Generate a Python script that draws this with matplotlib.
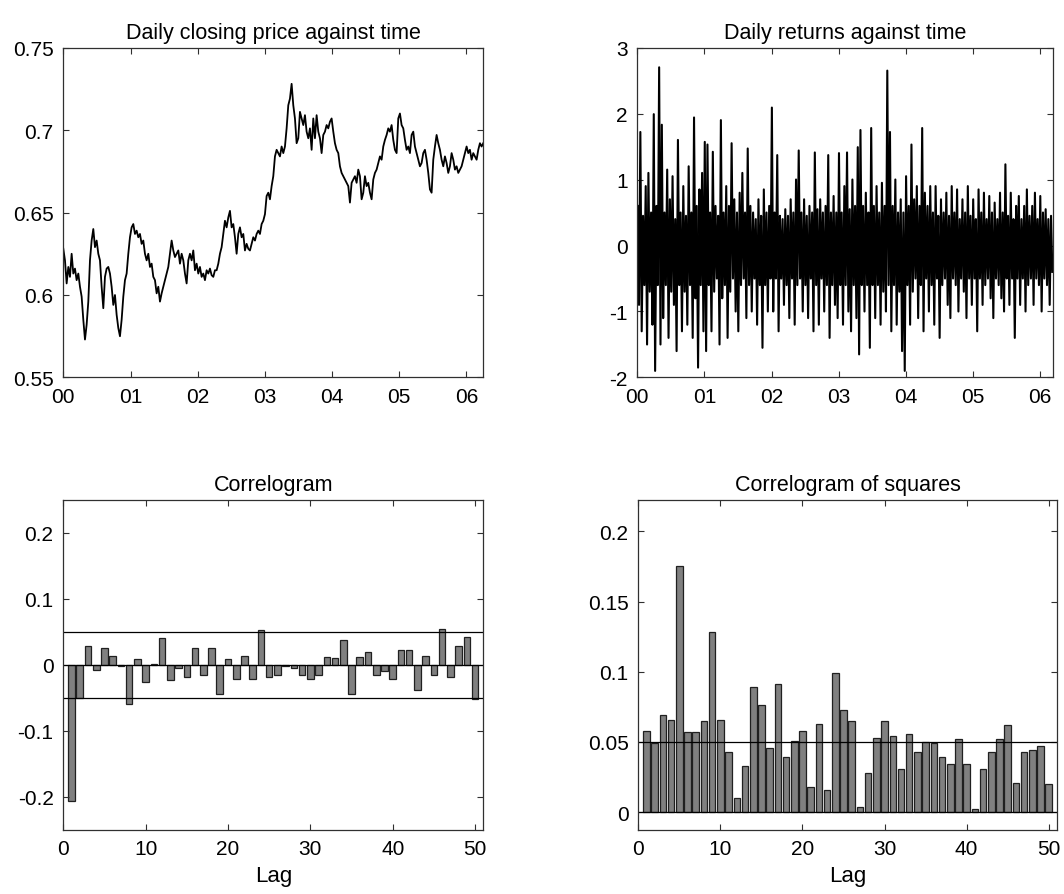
import numpy as np
import matplotlib
matplotlib.use("Agg")
import matplotlib.pyplot as plt

plt.rcParams['font.family'] = ['Liberation Sans', 'DejaVu Sans']
plt.rcParams['axes.unicode_minus'] = False

# closing price, sampled roughly every 6 trading days from Jan 2000
price = [
    0.628, 0.621, 0.607, 0.617, 0.611, 0.625, 0.613, 0.616, 0.609, 0.613,
    0.605, 0.599, 0.585, 0.573, 0.582, 0.596, 0.621, 0.633, 0.640, 0.629,
    0.633, 0.625, 0.621, 0.605, 0.592, 0.611, 0.616, 0.617, 0.613, 0.605,
    0.594, 0.600, 0.588, 0.580, 0.575, 0.585, 0.599, 0.609, 0.613, 0.625,
    0.635, 0.641, 0.643, 0.637, 0.639, 0.635, 0.637, 0.631, 0.633, 0.625,
    0.621, 0.625, 0.617, 0.619, 0.611, 0.609, 0.601, 0.605, 0.596, 0.601,
    0.605, 0.609, 0.613, 0.617, 0.625, 0.633, 0.627, 0.623, 0.625, 0.627,
    0.619, 0.625, 0.621, 0.613, 0.607, 0.621, 0.625, 0.621, 0.627, 0.615,
    0.619, 0.613, 0.617, 0.611, 0.613, 0.609, 0.615, 0.613, 0.616, 0.612,
    0.611, 0.615, 0.615, 0.619, 0.625, 0.629, 0.637, 0.645, 0.641, 0.647,
    0.651, 0.641, 0.643, 0.635, 0.625, 0.637, 0.641, 0.635, 0.637, 0.627,
    0.631, 0.628, 0.627, 0.631, 0.635, 0.633, 0.637, 0.639, 0.637, 0.643,
    0.645, 0.649, 0.660, 0.662, 0.658, 0.666, 0.672, 0.684, 0.688, 0.686,
    0.684, 0.690, 0.686, 0.690, 0.701, 0.715, 0.719, 0.728, 0.715, 0.707,
    0.692, 0.695, 0.711, 0.707, 0.703, 0.709, 0.699, 0.695, 0.701, 0.688,
    0.707, 0.695, 0.709, 0.699, 0.695, 0.686, 0.697, 0.699, 0.703, 0.701,
    0.705, 0.707, 0.699, 0.692, 0.688, 0.686, 0.678, 0.674, 0.672, 0.670,
    0.668, 0.666, 0.656, 0.668, 0.670, 0.672, 0.668, 0.676, 0.672, 0.658,
    0.662, 0.672, 0.666, 0.668, 0.662, 0.658, 0.670, 0.674, 0.676, 0.680,
    0.684, 0.682, 0.690, 0.694, 0.697, 0.701, 0.699, 0.703, 0.694, 0.688,
    0.686, 0.707, 0.710, 0.703, 0.701, 0.694, 0.688, 0.690, 0.686, 0.697,
    0.699, 0.690, 0.686, 0.682, 0.678, 0.680, 0.686, 0.688, 0.682, 0.674,
    0.664, 0.662, 0.682, 0.690, 0.697, 0.692, 0.688, 0.682, 0.678, 0.684,
    0.680, 0.674, 0.678, 0.686, 0.682, 0.676, 0.678, 0.674, 0.676, 0.678,
    0.682, 0.686, 0.690, 0.686, 0.688, 0.682, 0.686, 0.684, 0.682, 0.688,
    0.692, 0.690, 0.692,
]

# daily returns: up-moves and down-moves, alternating in time
ret_up = [
    0.6, 1.72, 0.45, 0.9, 1.1, 0.5, 1.99, 0.6, 2.7, 1.83, 0.5, 1.15, 0.7, 1.05, 0.4, 1.6, 0.5, 0.9, 0.45, 1.2, 0.5, 1.94, 0.6, 0.85, 1.1,
    1.57, 1.53, 0.5, 1.42, 0.6, 0.45, 1.9, 0.5, 0.9, 0.6, 1.55, 0.7, 0.5, 0.8, 1.1, 0.5, 1.47, 0.6, 0.5, 0.4, 0.7, 0.45, 0.85, 0.5, 0.6,
    2.09, 0.5, 1.37, 0.45, 0.4, 0.55, 0.45, 0.7, 0.5, 1.0, 1.44, 0.5, 0.7, 0.45, 0.6, 0.5, 1.41, 0.55, 0.7, 0.5, 0.6, 1.37, 0.5, 0.75, 0.5,
    1.40, 0.5, 0.9, 1.41, 0.55, 1.0, 0.6, 1.49, 1.75, 0.6, 0.8, 0.5, 1.78, 0.6, 0.9, 0.5, 0.95, 0.6, 2.65, 1.72, 0.6, 1.0, 0.5, 0.7, 0.5,
    1.05, 0.6, 1.53, 0.7, 0.9, 0.6, 1.78, 0.8, 0.6, 0.9, 0.5, 0.9, 0.45, 0.7, 0.5, 0.8, 0.45, 0.9, 0.5, 0.85, 0.4, 0.7, 0.5, 0.9, 0.45,
    0.7, 0.4, 0.85, 0.5, 0.8, 0.4, 0.75, 0.5, 0.65, 0.4, 0.8, 0.5, 1.23, 0.45, 0.8, 0.4, 0.6, 0.75, 0.4, 0.6, 0.85, 0.45, 0.6, 0.8, 0.4,
    0.75, 0.5, 0.55, 0.4, 0.45,
]
ret_down = [
    -0.9, -1.3, -0.6, -1.5, -0.7, -1.2, -1.9, -0.6, -1.5, -1.1, -0.6, -1.4, -0.7, -0.9, -1.6, -0.6, -1.3, -0.7, -1.2, -0.6, -1.4, -0.8, -1.85, -0.6, -1.3,
    -1.6, -0.6, -1.3, -0.7, -0.5, -1.5, -0.8, -0.6, -1.4, -0.7, -0.5, -1.0, -1.3, -0.6, -0.5, -1.1, -0.6, -1.0, -0.5, -1.2, -0.6, -1.55, -0.6, -1.0, -0.5,
    -1.0, -0.5, -1.3, -0.5, -0.9, -0.6, -1.1, -0.5, -1.2, -0.6, -0.5, -1.0, -0.6, -1.1, -0.5, -1.3, -0.6, -1.2, -0.5, -1.0, -0.6, -1.4, -0.6, -0.9, -1.1,
    -0.6, -1.2, -0.6, -1.0, -1.3, -0.6, -1.1, -1.65, -0.6, -1.0, -0.6, -1.55, -0.6, -1.1, -0.6, -1.2, -0.7, -1.0, -0.6, -1.3, -0.6, -1.2, -0.7, -1.6, -1.9,
    -0.6, -1.2, -0.7, -0.5, -1.1, -0.6, -1.3, -0.5, -1.0, -0.6, -1.2, -0.5, -1.4, -0.6, -0.5, -0.9, -1.1, -0.5, -0.6, -1.0, -0.5, -0.7, -1.1, -0.5, -0.9,
    -0.5, -1.3, -0.5, -0.9, -0.6, -0.5, -0.8, -1.1, -0.5, -0.6, -0.8, -1.0, -0.5, -0.9, -0.5, -1.4, -0.5, -0.9, -0.5, -1.0, -0.6, -0.5, -0.9, -0.5, -0.6,
    -1.0, -0.5, -0.6, -0.9, -0.4,
]

# sample autocorrelation of returns, lags 1..50
acf = [
    -0.207, -0.050, 0.028, -0.008, 0.025, 0.013, -0.002, -0.060, 0.008, -0.026,
    0.001, 0.040, -0.023, -0.005, -0.018, 0.026, -0.016, 0.025, -0.044, 0.008,
    -0.021, 0.013, -0.021, 0.053, -0.019, -0.016, -0.002, -0.005, -0.015, -0.021,
    -0.015, 0.011, 0.010, 0.037, -0.045, 0.011, 0.019, -0.015, -0.009, -0.021,
    0.023, 0.023, -0.039, 0.013, -0.016, 0.054, -0.018, 0.029, 0.042, -0.052,
]
# autocorrelation of squared returns
acf_sq = [
    0.058, 0.049, 0.069, 0.066, 0.175, 0.057, 0.057, 0.065, 0.128, 0.066,
    0.043, 0.010, 0.033, 0.089, 0.076, 0.046, 0.091, 0.039, 0.051, 0.058,
    0.018, 0.063, 0.016, 0.099, 0.073, 0.065, 0.004, 0.028, 0.053, 0.065,
    0.054, 0.031, 0.056, 0.043, 0.050, 0.049, 0.039, 0.034, 0.052, 0.034,
    0.002, 0.031, 0.043, 0.052, 0.062, 0.021, 0.043, 0.044, 0.047, 0.020,
]
bound = 0.05
year_labels = ['00', '01', '02', '03', '04', '05', '06']

frame = '#303030'


def style(ax):
    for s in ax.spines.values():
        s.set_color(frame)
        s.set_linewidth(0.9)
    ax.tick_params(direction='in', top=True, right=True, length=4, width=0.8,
                   color=frame, labelsize=15, pad=7)


fig = plt.figure(figsize=(10.64, 8.95), dpi=100)
ax1 = fig.add_axes([0.0595, 0.5771, 0.3947, 0.3687])
ax2 = fig.add_axes([0.5990, 0.5771, 0.3907, 0.3687])
ax3 = fig.add_axes([0.0595, 0.0718, 0.3947, 0.3687])
ax4 = fig.add_axes([0.5999, 0.0718, 0.3935, 0.3687])

# price
t_price = np.linspace(0, 6.25, len(price))
ax1.plot(t_price, price, color='black', lw=1.3)
ax1.set_xlim(0, 6.25)
ax1.set_ylim(0.55, 0.75)
ax1.set_xticks(range(7))
ax1.set_xticklabels(year_labels)
ax1.set_yticks([0.55, 0.6, 0.65, 0.7, 0.75])
ax1.set_yticklabels(['0.55', '0.6', '0.65', '0.7', '0.75'])
ax1.set_title('Daily closing price against time', fontsize=15.5, pad=7)
style(ax1)

# returns
returns = np.column_stack([ret_up, ret_down]).ravel()
t_ret = np.linspace(0.005, 6.18, len(returns))
ax2.plot(t_ret, returns, color='black', lw=1.5)
ax2.set_xlim(0, 6.19)
ax2.set_ylim(-2, 3)
ax2.set_xticks(range(7))
ax2.set_xticklabels(year_labels)
ax2.set_yticks([-2, -1, 0, 1, 2, 3])
ax2.set_title('Daily returns against time', fontsize=15.5, pad=7)
style(ax2)

lags = np.arange(1, len(acf) + 1)

# correlogram
ax3.bar(lags, acf, width=0.8, color='#808080', edgecolor='#202020', linewidth=0.9)
for y in (bound, 0, -bound):
    ax3.axhline(y, color='black', lw=0.9)
ax3.set_xlim(0, 51)
ax3.set_ylim(-0.25, 0.25)
ax3.set_xticks([0, 10, 20, 30, 40, 50])
ax3.set_yticks([-0.2, -0.1, 0, 0.1, 0.2])
ax3.set_yticklabels(['-0.2', '-0.1', '0', '0.1', '0.2'])
ax3.set_xlabel('Lag', fontsize=16, labelpad=5)
ax3.set_title('Correlogram', fontsize=15.5, pad=7)
style(ax3)

# correlogram of squares
ax4.bar(lags, acf_sq, width=0.8, color='#808080', edgecolor='#202020', linewidth=0.9)
for y in (bound, 0):
    ax4.axhline(y, color='black', lw=0.9)
ax4.set_xlim(0, 51)
ax4.set_ylim(-0.0125, 0.2225)
ax4.set_xticks([0, 10, 20, 30, 40, 50])
ax4.set_yticks([0, 0.05, 0.1, 0.15, 0.2])
ax4.set_yticklabels(['0', '0.05', '0.1', '0.15', '0.2'])
ax4.set_xlabel('Lag', fontsize=16, labelpad=5)
ax4.set_title('Correlogram of squares', fontsize=15.5, pad=7)
style(ax4)

fig.savefig('out.png', dpi=100)
